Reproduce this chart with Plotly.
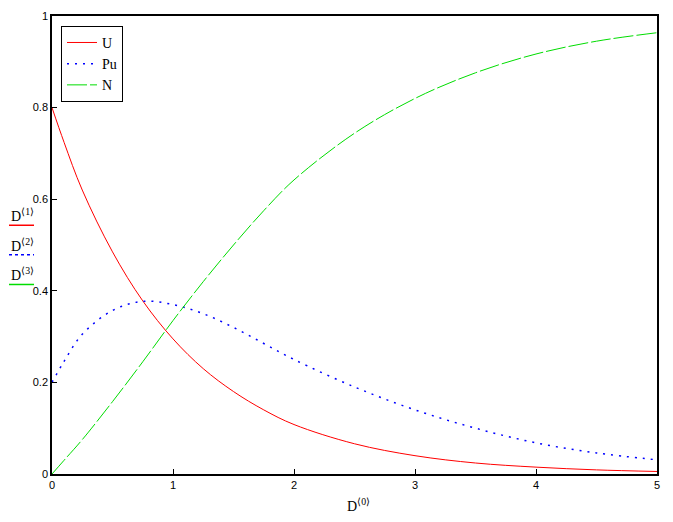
import plotly.graph_objects as go

# data
t = [0, 0.1, 0.25, 0.5, 0.75, 1, 1.25, 1.5, 1.75, 2, 2.5, 3, 3.5, 4, 4.5, 5]
U = [0.8, 0.724, 0.62, 0.485, 0.378, 0.295, 0.23, 0.18, 0.14, 0.108, 0.066, 0.04, 0.024, 0.015, 0.009, 0.0055]
Pu = [0.2, 0.246, 0.305, 0.357, 0.377, 0.37, 0.35, 0.32, 0.285, 0.25, 0.19, 0.14, 0.10, 0.068, 0.046, 0.031]
N = [0.0, 0.03, 0.075, 0.158, 0.245, 0.335, 0.42, 0.50, 0.575, 0.642, 0.744, 0.82, 0.876, 0.917, 0.945, 0.9635]

xticks = [0, 1, 2, 3, 4, 5]
yticks = [0, 0.2, 0.4, 0.6, 0.8, 1]
yticktext = ["0", "0.2", "0.4", "0.6", "0.8", "1"]

W, H = 673, 522
L, R, T, B = 52, 16, 10, 48
pw, ph = W - L - R, H - T - B

def px(xp):
    return (xp - L) / pw

def py(yp):
    return (H - B - yp) / ph

fig = go.Figure()
fig.add_trace(go.Scatter(x=t, y=U, name="U", mode="lines",
                         line=dict(color="#ff0000", width=1, shape="spline")))
fig.add_trace(go.Scatter(x=t, y=Pu, name="Pu", mode="lines",
                         line=dict(color="#0000ff", width=1.5, dash="2px,6px", shape="spline")))
fig.add_trace(go.Scatter(x=t, y=N, name="N", mode="lines",
                         line=dict(color="#00dd00", width=1, dash="20px,3px", shape="spline")))

serif = "Liberation Serif, Times New Roman, serif"
sans = "Arial, Liberation Sans, sans-serif"

fig.update_layout(
    width=W, height=H,
    margin=dict(l=L, r=R, t=T, b=B),
    paper_bgcolor="white", plot_bgcolor="white",
    showlegend=True,
    legend=dict(x=px(61), y=py(20), xanchor="left", yanchor="top",
                bordercolor="black", borderwidth=1, bgcolor="white",
                font=dict(family=serif, size=14, color="black"),
                itemwidth=30, tracegroupgap=0),
    xaxis=dict(range=[0, 5], tickvals=xticks, ticks="inside", ticklen=5,
               tickcolor="black", showline=True, linecolor="black", linewidth=1.5,
               mirror=True, showgrid=False, zeroline=False,
               tickfont=dict(family=sans, size=11, color="black")),
    yaxis=dict(range=[0, 1], tickvals=yticks, ticktext=yticktext, ticks="inside",
               ticklen=5, tickcolor="black", showline=True, linecolor="black",
               linewidth=1.5, mirror=True, showgrid=False, zeroline=False,
               tickfont=dict(family=sans, size=11, color="black")),
)

labels = [("D<sup>⟨1⟩</sup>", 212, 222, "#ff0000", "solid"),
          ("D<sup>⟨2⟩</sup>", 242, 252, "#0000ff", "dot"),
          ("D<sup>⟨3⟩</sup>", 271, 282, "#00dd00", "solid")]
for txt, ty, ly, col, dash in labels:
    fig.add_annotation(text=txt, xref="paper", yref="paper", x=px(9), y=py(ty),
                       xanchor="left", yanchor="middle", showarrow=False,
                       font=dict(family=serif, size=14, color="black"))
    fig.add_shape(type="line", xref="paper", yref="paper", x0=px(9), x1=px(34),
                  y0=py(ly), y1=py(ly), line=dict(color=col, width=1.5, dash=dash))

fig.add_annotation(text="D<sup>⟨0⟩</sup>", xref="paper", yref="paper",
                   x=px(358), y=py(505), xanchor="center", yanchor="middle",
                   showarrow=False, font=dict(family=serif, size=14, color="black"))

fig.write_html("out.html")
